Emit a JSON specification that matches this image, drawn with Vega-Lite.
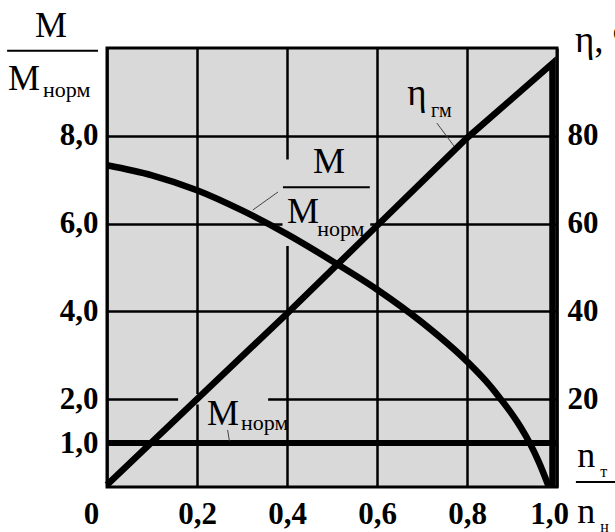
{
  "$schema": "https://vega.github.io/schema/vega-lite/v6.json",
  "width": 450,
  "height": 439,
  "autosize": {"type": "none"},
  "padding": {"left": 107, "top": 48, "right": 58, "bottom": 45},
  "background": "white",
  "config": {
    "view": {"stroke": "black", "strokeWidth": 3, "fill": "#d9d9d9"},
    "font": "Liberation Serif",
    "axis": {
      "labelFont": "Liberation Serif",
      "labelFontWeight": "bold",
      "labelFontSize": 31,
      "labelColor": "black",
      "ticks": false,
      "domain": false,
      "labelFlush": false,
      "labelOverlap": false,
      "labelBound": false
    }
  },
  "datasets": {
    "m": [
      {"n": 0, "M": 7.33},
      {"n": 0.1, "M": 7.1},
      {"n": 0.2, "M": 6.76},
      {"n": 0.3, "M": 6.3},
      {"n": 0.4, "M": 5.76},
      {"n": 0.5, "M": 5.15},
      {"n": 0.6, "M": 4.5},
      {"n": 0.7, "M": 3.75},
      {"n": 0.8, "M": 2.86},
      {"n": 0.85, "M": 2.32},
      {"n": 0.875, "M": 2.0},
      {"n": 0.9, "M": 1.66},
      {"n": 0.92, "M": 1.35},
      {"n": 0.94, "M": 0.99},
      {"n": 0.96, "M": 0.56},
      {"n": 0.982, "M": 0}
    ],
    "eta": [
      {"k": 1, "n": 0, "eta": 0.5},
      {"k": 2, "n": 0.2, "eta": 20},
      {"k": 3, "n": 0.4, "eta": 39.5},
      {"k": 4, "n": 0.6, "eta": 59.5},
      {"k": 5, "n": 0.8, "eta": 79.5},
      {"k": 6, "n": 0.99, "eta": 96.5},
      {"k": 7, "n": 0.99, "eta": 0}
    ],
    "mnorm": [{"M": 1}],
    "masks": [
      {"x1": 0.158, "x2": 0.358, "y1": 1.88, "y2": 2.12},
      {"x1": 0.39, "x2": 0.585, "y1": 5.49, "y2": 7.46}
    ],
    "bigM": [
      {"n": -0.16, "M": 10.25, "t": "M"},
      {"n": -0.22, "M": 9.04, "t": "M"},
      {"n": 0.458, "M": 7.15, "t": "M"},
      {"n": 0.4, "M": 6.01, "t": "M"},
      {"n": 0.222, "M": 1.41, "t": "M"}
    ],
    "subs": [
      {"n": -0.142, "M": 8.88, "t": "норм"},
      {"n": 0.467, "M": 5.72, "t": "норм"},
      {"n": 0.298, "M": 1.3, "t": "норм"}
    ],
    "greek": [
      {"n": 1.04, "M": 9.91, "t": "η, %"},
      {"n": 0.667, "M": 8.7, "t": "η"}
    ],
    "greeksub": [
      {"n": 0.72, "M": 8.43, "t": "гм"}
    ],
    "nlet": [
      {"n": 1.045, "M": 0.456, "t": "n"},
      {"n": 1.045, "M": -0.82, "t": "n"}
    ],
    "nsub": [
      {"n": 1.096, "M": 0.23, "t": "т"},
      {"n": 1.096, "M": -1.025, "t": "н"}
    ],
    "bars": [
      {"n": -0.222, "n2": -0.02, "M": 9.94, "M2": 9.94},
      {"n": 0.391, "n2": 0.584, "M": 6.83, "M2": 6.83},
      {"n": 1.042, "n2": 1.13, "M": 0.114, "M2": 0.114}
    ],
    "leaders": [
      {"n": 0.733, "n2": 0.773, "M": 8.29, "M2": 7.74},
      {"n": 0.38, "n2": 0.324, "M": 6.72, "M2": 6.31},
      {"n": 0.268, "n2": 0.272, "M": 1.3, "M2": 1.05}
    ]
  },
  "layer": [
    {
      "layer": [
        {
          "data": {"name": "masks"},
          "mark": {"type": "rect", "fill": "#d9d9d9", "stroke": null},
          "encoding": {
            "x": {
              "field": "x1", "type": "quantitative", "title": null,
              "scale": {"domain": [0, 1], "nice": false, "zero": false},
              "axis": {
                "values": [0, 0.2, 0.4, 0.6, 0.8, 1],
                "labelExpr": "datum.value == 0 ? '0' : replace(format(datum.value, '.1f'), '.', ',')",
                "labelPadding": 12,
                "labelBaseline": "top",
                "labelOffset": {"condition": [{"test": "datum.value == 0", "value": -16}, {"test": "datum.value == 1", "value": -8}], "value": 0},
                "grid": true,
                "gridColor": "black",
                "gridWidth": 2.5,
                "gridOpacity": 1
              }
            },
            "x2": {"field": "x2"},
            "y": {
              "field": "y1", "type": "quantitative", "title": null,
              "scale": {"domain": [0, 10], "nice": false, "zero": false},
              "axis": {
                "values": [1, 2, 4, 6, 8],
                "labelExpr": "replace(format(datum.value, '.1f'), '.', ',')",
                "labelPadding": 9,
                "grid": true,
                "gridColor": "black",
                "gridWidth": 2.5,
                "gridOpacity": 1
              }
            },
            "y2": {"field": "y2"}
          }
        },
        {
          "data": {"name": "mnorm"},
          "mark": {"type": "rule", "color": "black", "strokeWidth": 6},
          "encoding": {
            "y": {"field": "M", "type": "quantitative", "title": null}
          }
        },
        {
          "data": {"name": "m"},
          "mark": {"type": "line", "color": "black", "strokeWidth": 6.5, "interpolate": "monotone"},
          "encoding": {
            "x": {"field": "n", "type": "quantitative", "title": null},
            "y": {"field": "M", "type": "quantitative", "title": null}
          }
        },
        {
          "data": {"name": "bars"},
          "mark": {"type": "rule", "color": "black", "strokeWidth": 2},
          "encoding": {
            "x": {"field": "n", "type": "quantitative", "title": null},
            "x2": {"field": "n2"},
            "y": {"field": "M", "type": "quantitative", "title": null},
            "y2": {"field": "M2"}
          }
        },
        {
          "data": {"name": "leaders"},
          "mark": {"type": "rule", "color": "#444", "strokeWidth": 1},
          "encoding": {
            "x": {"field": "n", "type": "quantitative", "title": null},
            "x2": {"field": "n2"},
            "y": {"field": "M", "type": "quantitative", "title": null},
            "y2": {"field": "M2"}
          }
        },
        {
          "data": {"name": "bigM"},
          "mark": {"type": "text", "font": "Liberation Serif", "fontSize": 36, "align": "left", "baseline": "alphabetic", "color": "black"},
          "encoding": {
            "x": {"field": "n", "type": "quantitative", "title": null},
            "y": {"field": "M", "type": "quantitative", "title": null},
            "text": {"field": "t"}
          }
        },
        {
          "data": {"name": "subs"},
          "mark": {"type": "text", "font": "Liberation Serif", "fontSize": 22, "align": "left", "baseline": "alphabetic", "color": "black"},
          "encoding": {
            "x": {"field": "n", "type": "quantitative", "title": null},
            "y": {"field": "M", "type": "quantitative", "title": null},
            "text": {"field": "t"}
          }
        },
        {
          "data": {"name": "greek"},
          "mark": {"type": "text", "font": "Liberation Serif", "fontSize": 37, "align": "left", "baseline": "alphabetic", "color": "black"},
          "encoding": {
            "x": {"field": "n", "type": "quantitative", "title": null},
            "y": {"field": "M", "type": "quantitative", "title": null},
            "text": {"field": "t"}
          }
        },
        {
          "data": {"name": "greeksub"},
          "mark": {"type": "text", "font": "Liberation Serif", "fontSize": 20, "align": "left", "baseline": "alphabetic", "color": "black"},
          "encoding": {
            "x": {"field": "n", "type": "quantitative", "title": null},
            "y": {"field": "M", "type": "quantitative", "title": null},
            "text": {"field": "t"}
          }
        },
        {
          "data": {"name": "nlet"},
          "mark": {"type": "text", "font": "Liberation Serif", "fontSize": 36, "align": "left", "baseline": "alphabetic", "color": "black"},
          "encoding": {
            "x": {"field": "n", "type": "quantitative", "title": null},
            "y": {"field": "M", "type": "quantitative", "title": null},
            "text": {"field": "t"}
          }
        },
        {
          "data": {"name": "nsub"},
          "mark": {"type": "text", "font": "Liberation Serif", "fontSize": 16, "align": "left", "baseline": "alphabetic", "color": "black"},
          "encoding": {
            "x": {"field": "n", "type": "quantitative", "title": null},
            "y": {"field": "M", "type": "quantitative", "title": null},
            "text": {"field": "t"}
          }
        }
      ]
    },
    {
      "data": {"name": "eta"},
      "mark": {"type": "line", "color": "black", "strokeWidth": 6.5, "strokeJoin": "miter", "strokeCap": "butt"},
      "encoding": {
        "x": {"field": "n", "type": "quantitative", "title": null},
        "y": {
          "field": "eta", "type": "quantitative", "title": null,
          "scale": {"domain": [0, 100], "nice": false, "zero": false},
          "axis": {
            "orient": "right",
            "values": [20, 40, 60, 80],
            "labelPadding": 10,
            "grid": false
          }
        },
        "order": {"field": "k"}
      }
    }
  ],
  "resolve": {"scale": {"y": "independent"}}
}
